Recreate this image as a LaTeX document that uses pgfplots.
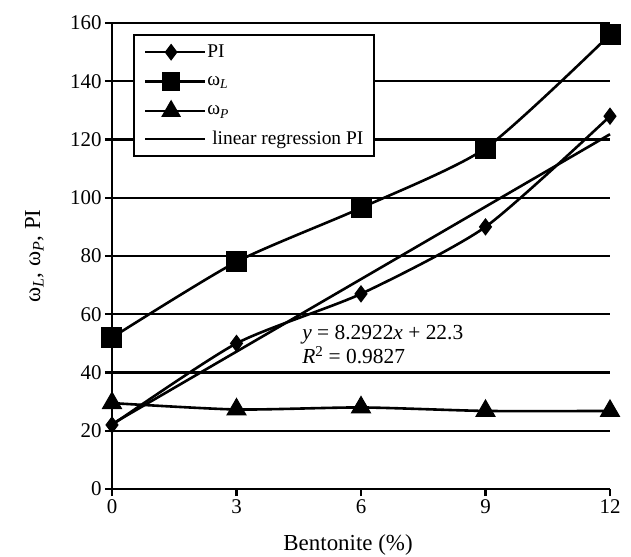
\documentclass[border=0pt]{standalone}
\usepackage{pgfplots}
\pgfplotsset{compat=1.18}
\usepackage{fontspec}
\setmainfont{Liberation Serif}
\begin{document}
\begin{tikzpicture}
\begin{axis}[
  at={(0,0)}, anchor=origin,
  scale only axis, width=498bp, height=466bp,
  xmin=0, xmax=12, ymin=0, ymax=160,
  axis x line=bottom, axis y line=left,
  axis line style={-, line width=2.4bp},
  xtick={0,3,6,9,12}, ytick={0,20,...,160},
  tick align=outside, major tick length=7bp,
  tick style={black, line width=2.4bp},
  ymajorgrids, grid style={black, line width=2.4bp},
  /pgf/number format/assume math mode=true,
  ticklabel style={font=\fontsize{21}{24}\selectfont},
  xlabel={Bentonite (\%)},
  ylabel={ω\textsubscript{\textit{L}}, ω\textsubscript{\textit{P}}, PI},
  xlabel style={font=\fontsize{23}{26}\selectfont, at={(axis description cs:0.474,0)}, anchor=north, yshift=-42bp},
  ylabel style={font=\fontsize{23}{26}\selectfont, at={(axis description cs:-0.13,0.5)}, anchor=south},
  clip=false,
  legend style={at={(axis description cs:0.042,0.976)}, anchor=north west,
    draw=black, line width=1.8bp, fill=white,
    font=\fontsize{19.5}{21}\selectfont, row sep=13bp, inner ysep=9bp, inner xsep=10bp,
    nodes={inner sep=1bp}},
  legend cell align=left,
  legend image code/.code={
    \draw[#1, mark=none] (0bp,0bp) -- (52bp,0bp);
    \draw[#1, only marks, mark options={scale=0.8}] plot coordinates {(26bp,0bp)};
    \path (0bp,0bp) -- (60bp,0bp);
  },
]
\addplot[black, line width=2.6bp, smooth, tension=0.4, mark=diamond*, mark size=8bp, mark options={solid, line width=1bp}]
  coordinates {(0,22) (3,50) (6,67) (9,90) (12,128)};
\addlegendentry{PI}
\addplot[black, line width=2.6bp, smooth, tension=0.4, mark=square*, mark size=10bp, mark options={solid, line width=1bp}]
  coordinates {(0,52) (3,78) (6,96.5) (9,117) (12,156)};
\addlegendentry{ω\textsubscript{\textit{L}}}
\addplot[black, line width=2.6bp, smooth, tension=0.4, mark=triangle*, mark size=11bp, mark options={solid, line width=1bp}]
  coordinates {(0,29.5) (3,27.3) (6,28) (9,26.8) (12,26.8)};
\addlegendentry{ω\textsubscript{\textit{P}}}
\addplot[black, line width=2.6bp, no marks] coordinates {(0,22.3) (12,121.8)};
\addlegendentry{\ linear regression PI}
\node[anchor=west, font=\fontsize{21.5}{24}\selectfont, align=left, inner sep=0pt] at (axis cs:4.58,49.5)
  {\textit{y} = 8.2922\textit{x} + 22.3\\\textit{R}\textsuperscript{2} = 0.9827};
\end{axis}
\pgfresetboundingbox
\path (-112bp,-68bp) rectangle (519bp,489bp);
\end{tikzpicture}
\end{document}
